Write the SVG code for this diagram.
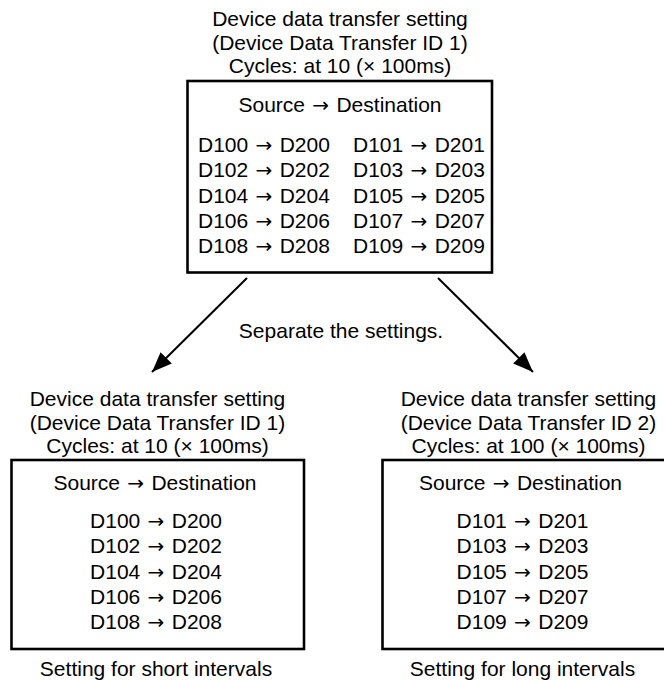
<svg xmlns="http://www.w3.org/2000/svg" width="664" height="680" viewBox="0 0 664 680">
<style>
text{font-family:"Liberation Sans",Arial,sans-serif;font-size:21px;fill:#000;text-anchor:middle}
.l{text-anchor:start}
.a{font-family:"DejaVu Sans",sans-serif;font-size:20px}
.box{fill:#fff;stroke:#000;stroke-width:2.6}
.conn{stroke:#000;stroke-width:2;fill:none}
</style>
<defs>
<marker id="ah" markerUnits="userSpaceOnUse" markerWidth="22" markerHeight="16" refX="20" refY="8" orient="auto" viewBox="0 0 22 16">
<path d="M0,0 L20,8 L0,16 z" fill="#000"/>
</marker>
</defs>
<rect width="664" height="680" fill="#fff"/>
<g id="top">
<text x="340" y="26">Device data transfer setting</text>
<text x="340" y="49.5">(Device Data Transfer ID 1)</text>
<text x="340" y="73">Cycles: at 10 (× 100ms)</text>
<rect class="box" x="187.5" y="81" width="304.5" height="191.5"/>
<text x="340" y="112">Source <tspan class="a" dx="1.5">→</tspan> <tspan dx="1.5">Destination</tspan></text>
<text class="l" x="198" y="152">D100 <tspan class="a" dx="1.5">→</tspan> <tspan dx="1.5">D200</tspan></text>
<text class="l" x="198" y="177">D102 <tspan class="a" dx="1.5">→</tspan> <tspan dx="1.5">D202</tspan></text>
<text class="l" x="198" y="202.5">D104 <tspan class="a" dx="1.5">→</tspan> <tspan dx="1.5">D204</tspan></text>
<text class="l" x="198" y="228">D106 <tspan class="a" dx="1.5">→</tspan> <tspan dx="1.5">D206</tspan></text>
<text class="l" x="198" y="253">D108 <tspan class="a" dx="1.5">→</tspan> <tspan dx="1.5">D208</tspan></text>
<text class="l" x="353" y="152">D101 <tspan class="a" dx="1.5">→</tspan> <tspan dx="1.5">D201</tspan></text>
<text class="l" x="353" y="177">D103 <tspan class="a" dx="1.5">→</tspan> <tspan dx="1.5">D203</tspan></text>
<text class="l" x="353" y="202.5">D105 <tspan class="a" dx="1.5">→</tspan> <tspan dx="1.5">D205</tspan></text>
<text class="l" x="353" y="228">D107 <tspan class="a" dx="1.5">→</tspan> <tspan dx="1.5">D207</tspan></text>
<text class="l" x="353" y="253">D109 <tspan class="a" dx="1.5">→</tspan> <tspan dx="1.5">D209</tspan></text>
</g>
<g id="connectors">
<line class="conn" x1="247" y1="278" x2="152" y2="372" marker-end="url(#ah)"/>
<line class="conn" x1="438" y1="278" x2="533" y2="372" marker-end="url(#ah)"/>
<text x="341" y="338">Separate the settings.</text>
</g>
<g id="left">
<text x="157.5" y="406">Device data transfer setting</text>
<text x="157.5" y="429.5">(Device Data Transfer ID 1)</text>
<text x="157.5" y="453">Cycles: at 10 (× 100ms)</text>
<rect class="box" x="11.5" y="460" width="292.5" height="189"/>
<text x="155" y="490">Source <tspan class="a" dx="1.5">→</tspan> <tspan dx="1.5">Destination</tspan></text>
<text x="156" y="528">D100 <tspan class="a" dx="1.5">→</tspan> <tspan dx="1.5">D200</tspan></text>
<text x="156" y="553">D102 <tspan class="a" dx="1.5">→</tspan> <tspan dx="1.5">D202</tspan></text>
<text x="156" y="579">D104 <tspan class="a" dx="1.5">→</tspan> <tspan dx="1.5">D204</tspan></text>
<text x="156" y="604">D106 <tspan class="a" dx="1.5">→</tspan> <tspan dx="1.5">D206</tspan></text>
<text x="156" y="629">D108 <tspan class="a" dx="1.5">→</tspan> <tspan dx="1.5">D208</tspan></text>
<text x="156" y="676">Setting for short intervals</text>
</g>
<g id="right">
<text x="528.5" y="406">Device data transfer setting</text>
<text x="528.5" y="429.5">(Device Data Transfer ID 2)</text>
<text x="528.5" y="453">Cycles: at 100 (× 100ms)</text>
<rect class="box" x="382.5" y="460" width="284" height="189"/>
<text x="520.5" y="490">Source <tspan class="a" dx="1.5">→</tspan> <tspan dx="1.5">Destination</tspan></text>
<text x="522.5" y="528">D101 <tspan class="a" dx="1.5">→</tspan> <tspan dx="1.5">D201</tspan></text>
<text x="522.5" y="553">D103 <tspan class="a" dx="1.5">→</tspan> <tspan dx="1.5">D203</tspan></text>
<text x="522.5" y="579">D105 <tspan class="a" dx="1.5">→</tspan> <tspan dx="1.5">D205</tspan></text>
<text x="522.5" y="604">D107 <tspan class="a" dx="1.5">→</tspan> <tspan dx="1.5">D207</tspan></text>
<text x="522.5" y="629">D109 <tspan class="a" dx="1.5">→</tspan> <tspan dx="1.5">D209</tspan></text>
<text x="522.5" y="676">Setting for long intervals</text>
</g>
</svg>
